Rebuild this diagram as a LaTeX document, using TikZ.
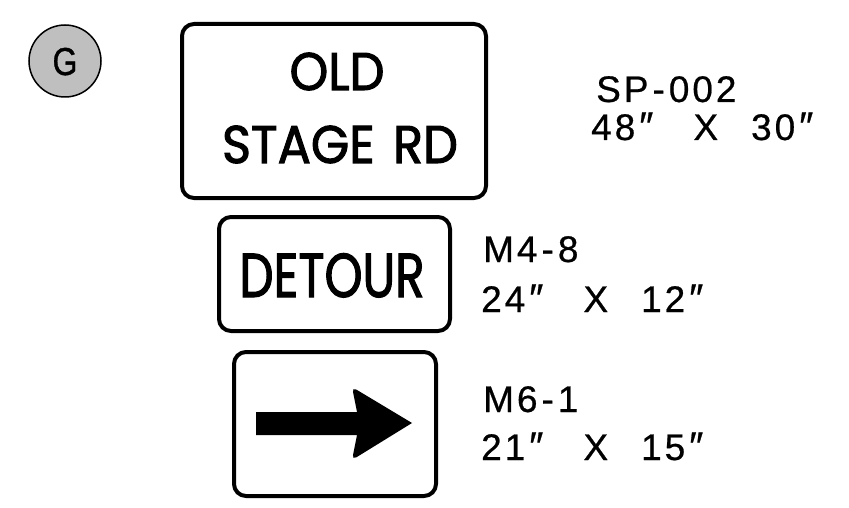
\documentclass[tikz,border=0pt]{standalone}
\usepackage{fontspec}
\setmainfont{Liberation Sans}
\newfontfamily\signfont[FakeBold=2]{Poppins}
\newfontfamily\lblfont[LetterSpace=8,FakeBold=0.6]{Liberation Sans}
\newfontfamily\gfont[FakeBold=1]{Liberation Sans}
\newcommand{\dpr}{\hspace{2pt}{\itshape\fontsize{40}{40}\selectfont ″}}
\newcommand{\hy}{\hspace{4pt}-\hspace{4pt}}
\begin{document}
\begin{tikzpicture}[x=1pt,y=-1pt,
  signbox/.style={draw=black,line width=4pt,rounded corners=12pt,fill=white,inner sep=0pt},
  signtxt/.style={anchor=base,inner sep=0pt},
  lbl/.style={anchor=base west,inner sep=0pt,font=\lblfont\fontsize{37}{40}\selectfont}]
\useasboundingbox (0,0) rectangle (849,508);
% circle G
\node[circle,draw=black,line width=1.5pt,fill=black!25,minimum size=72pt,inner sep=0pt] (g) at (65,61) {};
\node[anchor=base,inner sep=0pt,font=\gfont\fontsize{39}{40}\selectfont] (gt) at (65,75) {\scalebox{0.82}[1]{G}};
% sign 1
\node[signbox,minimum width=304pt,minimum height=174pt] (s1) at (334,111) {};
\node[signtxt,font=\signfont\fontsize{53}{60}\selectfont] (s1a) at (337,90) {\scalebox{0.93}[1]{OLD}};
\node[signtxt,font=\signfont\fontsize{53}{60}\selectfont] (s1b) at (340,163) {\scalebox{0.93}[1]{STAGE\hspace{20pt}RD}};
% sign 2
\node[signbox,minimum width=231pt,minimum height=114pt] (s2) at (334.5,274) {};
\node[signtxt,font=\signfont\fontsize{62}{70}\selectfont] (s2a) at (332,297) {\scalebox{0.78}[1]{DETOUR}};
% sign 3
\node[signbox,minimum width=202pt,minimum height=144pt] (s3) at (335,424) {};
\fill[black] (256,412) -- (357,412) [rounded corners=5pt] -- (352,387) [sharp corners] -- (412,423) [rounded corners=5pt] -- (352,460) [sharp corners] -- (357,435) -- (256,435) -- cycle;
% labels
\node[lbl] (l1a) at (596,102) {SP\hy 002};
\node[lbl] (l1b) at (591,140) {48\dpr\hspace{42pt}X\hspace{33pt}30\dpr};
\node[lbl] (l2a) at (483,262) {M4\hy 8};
\node[lbl] (l2b) at (481,312) {24\dpr\hspace{42pt}X\hspace{33pt}12\dpr};
\node[lbl] (l3a) at (483,412) {M6\hy 1};
\node[lbl] (l3b) at (481,460) {21\dpr\hspace{42pt}X\hspace{33pt}15\dpr};
\end{tikzpicture}
\end{document}
